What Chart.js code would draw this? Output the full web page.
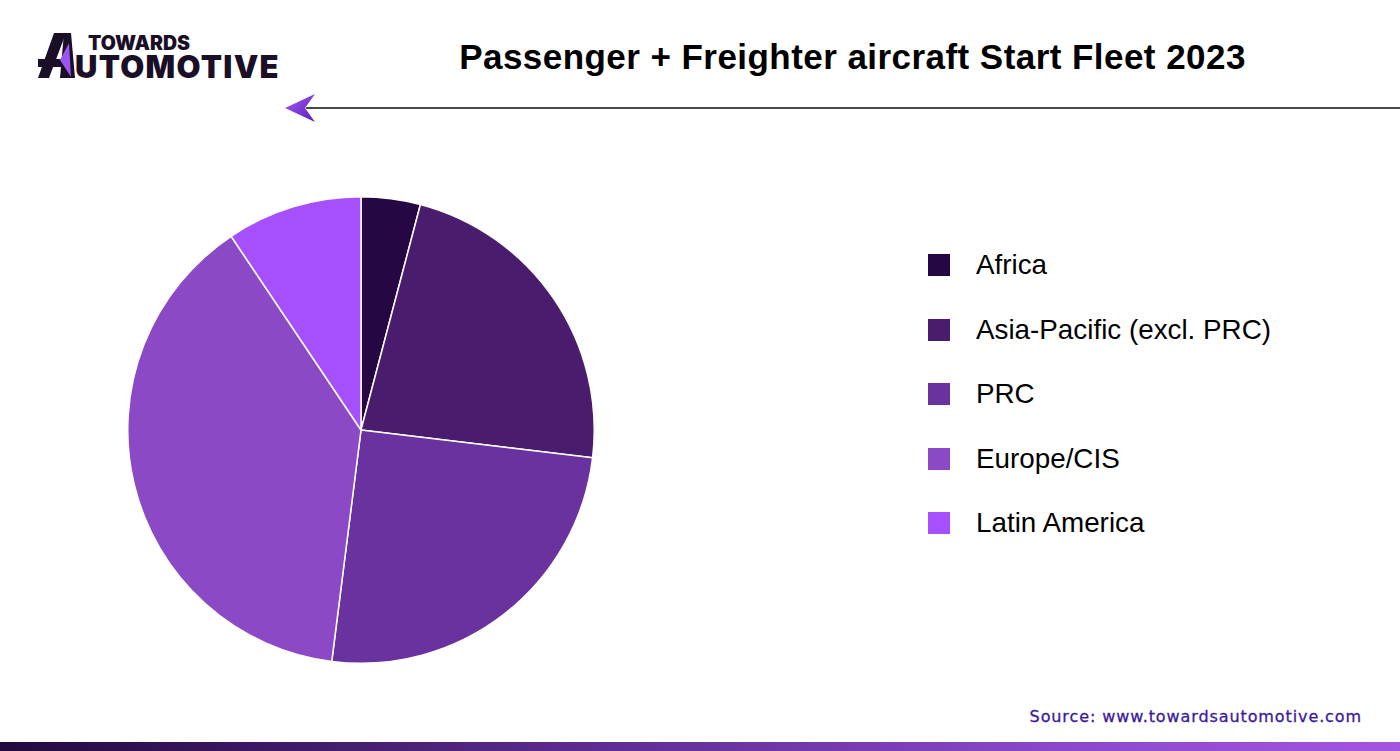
<!DOCTYPE html>
<html>
<head>
<meta charset="utf-8">
<script src="https://cdn.jsdelivr.net/npm/chart.js@4.4.1/dist/chart.umd.min.js"></script>
<style>
  html, body { margin: 0; padding: 0; background: #fff; }
  body { width: 1400px; height: 751px; position: relative; overflow: hidden; font-family: "Liberation Sans", Arial, sans-serif; }
  #logo { position: absolute; left: 0; top: 0; }
  #title { position: absolute; left: 0; top: 37px; width: 1400px; padding-left: 305px; box-sizing: border-box;
           text-align: center; font: bold 35px "Liberation Sans", Arial, sans-serif; color: #000; letter-spacing: 0.45px; }
  #arrow { position: absolute; left: 280px; top: 90px; }
  #pie-wrap { position: absolute; left: 127px; top: 196px; width: 468px; height: 468px; }
  #legend { position: absolute; left: 928px; top: 252px; margin: 0; padding: 0; list-style: none; }
  #legend li { display: flex; align-items: center; height: 26px; margin-bottom: 38.5px;
               font: 27.8px "Liberation Sans", Arial, sans-serif; color: #000; }
  #legend .box { width: 22px; height: 22px; margin-right: 26px; flex: none; }
  #source { position: absolute; right: 38px; top: 707px; font: 16px "DejaVu Sans", sans-serif; color: #3b1a9a;
            letter-spacing: 0.9px; -webkit-text-stroke: 0.3px #3b1a9a; }
  #footer-bar { position: absolute; left: 0; top: 742px; width: 1400px; height: 9px;
                background: linear-gradient(90deg, #22093f 0%, #5a2a8c 40%, #8a48c8 75%, #a355e0 100%); }
</style>
</head>
<body>

<svg id="logo" width="300" height="90" viewBox="0 0 300 90">
  <polygon points="54,33 66,33 49,78 38,78" fill="#1a0f26"/>
  <polygon points="38,59 64,59 64,67 38,67" fill="#1a0f26"/>
  <polygon points="64,33 71,33 75,78 60,78" fill="#1a0f26"/>
  <polygon points="69,43 71,77 60,60" fill="#9b55f0"/>
  <text x="88" y="50" font-family="Inter, 'DejaVu Sans', sans-serif" font-weight="900" font-size="19.5" fill="#1a0f26">TOWARDS</text>
  <text x="75" y="78" font-family="Inter, 'DejaVu Sans', sans-serif" font-weight="900" font-size="31" fill="#1a0f26" letter-spacing="1.3">UTOMOTIVE</text>
</svg>

<div id="title">Passenger + Freighter aircraft Start Fleet 2023</div>

<svg id="arrow" width="1120" height="36" viewBox="0 0 1120 36">
  <defs>
    <linearGradient id="ag" x1="0" y1="0" x2="1" y2="1">
      <stop offset="0" stop-color="#a35cf5"/>
      <stop offset="1" stop-color="#5a1fb8"/>
    </linearGradient>
  </defs>
  <line x1="26" y1="18" x2="1120" y2="18" stroke="#0e0a14" stroke-width="1.6"/>
  <polygon points="5,18 35,4 25,18 35,32" fill="url(#ag)"/>
</svg>

<div id="pie-wrap"><canvas id="pie"></canvas></div>
<ul id="legend"></ul>

<div id="source">Source: www.towardsautomotive.com</div>
<div id="footer-bar"></div>

<script>
// share of start fleet (%)
const regions = ['Africa', 'Asia-Pacific (excl. PRC)', 'PRC', 'Europe/CIS', 'Latin America'];
const fleetShare = [4.1, 22.8, 25.1, 38.6, 9.4];
const sliceColors = ['#250843', '#4a1c6e', '#6a329e', '#8c49c6', '#a64ffc'];

const pieChart = new Chart(document.getElementById('pie'), {
  type: 'pie',
  data: {
    labels: regions,
    datasets: [{
      data: fleetShare,
      backgroundColor: sliceColors,
      borderColor: '#ffffff',
      borderWidth: 1.5,
      hoverOffset: 0,
    }],
  },
  options: {
    responsive: true,
    maintainAspectRatio: false,
    animation: false,
    layout: { padding: 0 },
    plugins: {
      legend: { display: false },
      tooltip: { enabled: false },
    },
  },
});

// html legend built from the chart's own labels
function buildLegend(chart) {
  const ul = document.getElementById('legend');
  const items = chart.options.plugins.legend.labels.generateLabels(chart);
  items.forEach((item) => {
    const li = document.createElement('li');
    const box = document.createElement('span');
    box.className = 'box';
    box.style.background = item.fillStyle;
    li.appendChild(box);
    li.appendChild(document.createTextNode(item.text));
    ul.appendChild(li);
  });
}
buildLegend(pieChart);
</script>
</body>
</html>
